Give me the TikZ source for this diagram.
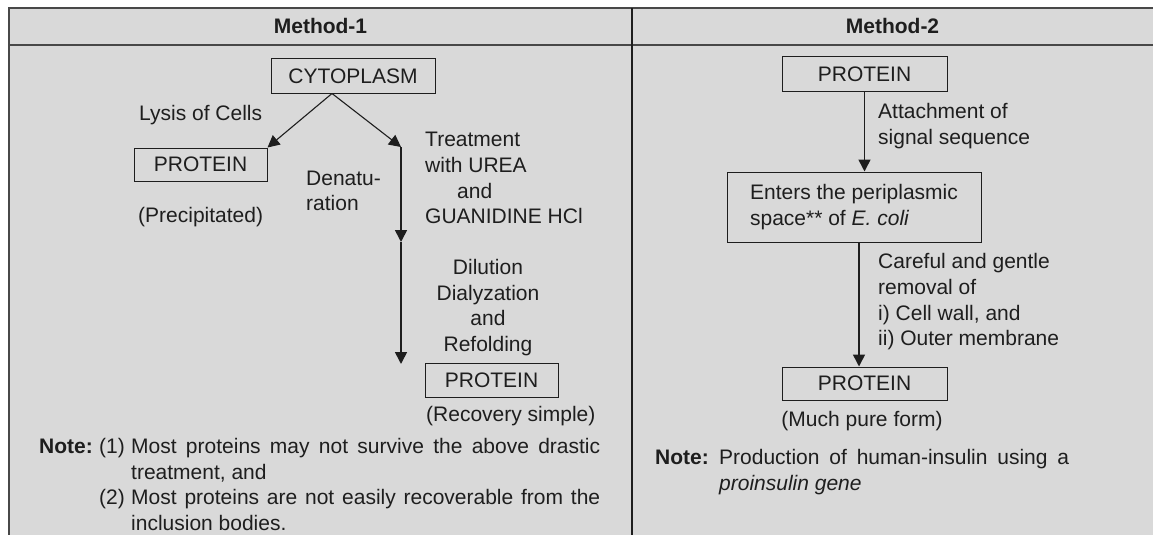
\documentclass[tikz,border=0pt]{standalone}
\usepackage{fontspec}
\setmainfont{Liberation Sans}
\usetikzlibrary{arrows.meta,calc}
\definecolor{bg}{RGB}{217,217,217}
\definecolor{ink}{RGB}{30,30,30}
\definecolor{frameC}{RGB}{72,72,72}
\hyphenpenalty=10000 \exhyphenpenalty=10000
\tikzset{
  box/.style={draw=ink, line width=1pt, inner sep=0pt, text=ink},
  lbl/.style={inner sep=0pt, text=ink},
  arr/.style={draw=ink, line width=1.6pt, -{Triangle[length=12pt,width=12pt]}},
  darr/.style={arr, line width=1.1pt},
}
\begin{document}
\begin{tikzpicture}[x=1pt,y=-1pt,font=\fontsize{21}{25.7}\selectfont]
\useasboundingbox (0,0) rectangle (1153,535);
\fill[bg] (9,8) rectangle (1153,535);
\draw[frameC, line width=1.6pt] (9,535) -- (9,8) -- (1153,8);
\draw[frameC, line width=1.8pt] (9,45) -- (1153,45);
\draw[ink, line width=2pt] (632,8) -- (632,535);

% headers
\node[lbl,anchor=base] (h1) at (320.5,34) {\bfseries Method-1};
\node[lbl,anchor=base] (h2) at (892.5,34) {\bfseries Method-2};

% boxes
\node[box, minimum width=164pt, minimum height=34pt] (cyto) at (353,76) {CYTOPLASM};
\node[box, minimum width=133pt, minimum height=33pt] (p1) at (200.5,164.5) {PROTEIN};
\node[box, minimum width=133pt, minimum height=34pt] (p2) at (491.5,380) {PROTEIN};
\node[box, minimum width=165pt, minimum height=34pt] (pa) at (864.5,74) {PROTEIN};
\node[box, minimum width=254pt, minimum height=70pt, align=left] (en) at (854,207) {Enters the periplasmic\\space** of \textit{E. coli}};
\node[box, minimum width=165pt, minimum height=33pt] (pb) at (864.5,383.5) {PROTEIN};

% labels method 1
\node[lbl,anchor=base west] (lysis) at (139,120) {Lysis of Cells};
\node[lbl,anchor=base west] (prec) at (138,222) {(Precipitated)};
\node[lbl,anchor=north west,align=left] (denat) at (306,170.5) {Denatu-\\ration};
\node[lbl,anchor=north west,align=left] (treat) at (425,132) {Treatment\\with UREA\\\hspace*{32pt}and\\GUANIDINE HCl};
\node[lbl,anchor=north,align=center] (dil) at (488,259) {Dilution\\Dialyzation\\and\\Refolding};
\node[lbl,anchor=base west] (rec) at (426,421) {(Recovery simple)};

% labels method 2
\node[lbl,anchor=north west,align=left] (att) at (878,103) {Attachment of\\signal sequence};
\node[lbl,anchor=north west,align=left] (care) at (878,253.3) {Careful and gentle\\removal of\\i) Cell wall, and\\ii) Outer membrane};
\node[lbl,anchor=base] (pure) at (862,426.5) {(Much pure form)};

% notes
\node[lbl,anchor=base west] (note1) at (39,453.5) {\begin{tabular}[t]{@{}p{60pt}@{}p{32pt}@{}p{469pt}@{}}
\textbf{Note:} & (1) & Most proteins may not survive the above drastic\linebreak treatment, and\\
 & (2) & Most proteins are not easily recoverable from the\linebreak inclusion bodies.
\end{tabular}};
\node[lbl,anchor=base west] (note2) at (655,464.5) {\begin{tabular}[t]{@{}p{64pt}@{}p{350pt}@{}}
\textbf{Note:} & Production of human-insulin using a\linebreak \textit{proinsulin gene}
\end{tabular}};

% connectors
\coordinate (split) at ([xshift=-21pt]cyto.south);
\coordinate (turn) at (401,147);
\coordinate (mid) at (401,242);
\coordinate (endl) at (401,364);
\draw[darr] (split) -- (p1.north east);
\draw[darr] (split) -- (turn);
\draw[arr] (turn) -- (mid);
\draw[arr] (mid) -- (endl);
\draw[arr] (pa.south) -- (pa.south |- en.north);
\coordinate (ens) at ([xshift=5pt]en.south);
\draw[arr] (ens) -- (ens |- pb.north);
\end{tikzpicture}
\end{document}
